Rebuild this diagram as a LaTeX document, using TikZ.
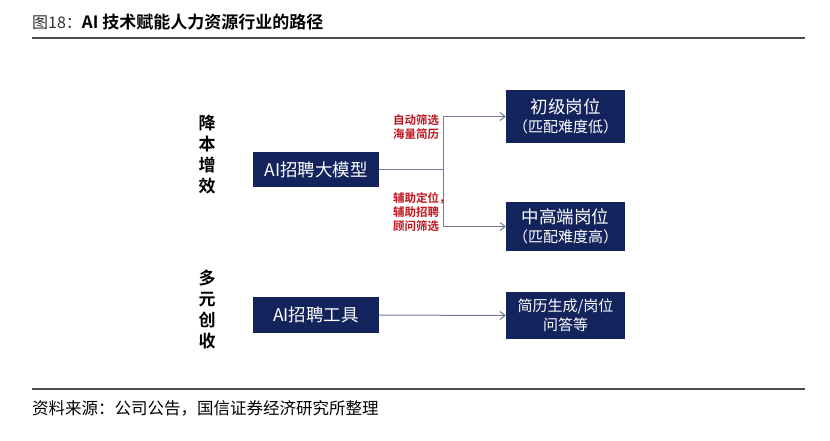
\documentclass[tikz,border=0pt]{standalone}
\usepackage{fontspec}
\usepackage{tikz}
\usetikzlibrary{arrows.meta, positioning}
\newfontfamily\cjk{Noto Sans CJK SC}
\newfontfamily\cjkb{Noto Sans CJK SC Bold}
\definecolor{navy}{HTML}{13235C}
\definecolor{linegray}{HTML}{6E7B93}
\definecolor{labred}{HTML}{C0141E}
\newcommand\boxbig{\fontsize{17.5}{21}\selectfont}

\begin{document}
\begin{tikzpicture}[x=1pt,y=-1pt,>={Straight Barb[length=5pt,width=8pt]},
  box/.style={fill=navy,text=white,inner sep=0pt,align=center,font=\cjk\fontsize{15}{19}\selectfont},
  side/.style={align=center,font=\cjkb\fontsize{17}{21}\selectfont},
  lab/.style={text=labred,align=left,inner sep=0pt,font=\cjkb\fontsize{11.5}{14}\selectfont},
  conn/.style={draw=linegray,line width=1pt}]
\useasboundingbox (0,0) rectangle (830,440);
% title and rules
\node[anchor=west,inner sep=0pt](T) at (32,22){{\cjk\fontsize{16}{18}\selectfont\color{black!80}图18：}{\cjkb\fontsize{17}{18}\selectfont AI 技术赋能人力资源行业的路径}};
\draw[line width=1.5pt,black!70](32,38)--(805,38);
\draw[line width=1.5pt,black!70](32,389)--(805,389);
\node[anchor=west,inner sep=0pt](S) at (32,408){\cjk\fontsize{16.5}{18}\selectfont 资料来源：公司公告，国信证券经济研究所整理};

% left labels
\node[side](C1) at (207,154.5){降\\本\\增\\效};
\node[side](C2) at (207,310){多\\元\\创\\收};

% boxes
\node[box,minimum width=126pt,minimum height=35pt](M) at (316,169.5){\boxbig AI招聘大模型};
\node[box,minimum width=119pt,minimum height=53pt](L1) at (565.5,116.5){{\boxbig 初级岗位}\\（匹配难度低）};
\node[box,minimum width=119pt,minimum height=49pt](L2) at (565.5,226.5){{\boxbig 中高端岗位}\\（匹配难度高）};
\node[box,minimum width=126pt,minimum height=36pt](G) at (316,315){\boxbig AI招聘工具};
\node[box,minimum width=119pt,minimum height=47pt](R) at (565.5,315.5){简历生成/岗位\\问答等};

% connectors
\coordinate (J) at (443,169.5);
\draw[conn](M.east)--(J);
\draw[conn,->](J)|-(L1.west);
\draw[conn,->](J)|-(L2.west);
\draw[conn,->](G.east)--(R.west);

\node[lab,anchor=west](A1) at (393,127.5){自动筛选\\海量简历};
\node[lab,anchor=west](A2) at (393,212){辅助定位，\\辅助招聘\\顾问筛选};
\end{tikzpicture}
\end{document}
